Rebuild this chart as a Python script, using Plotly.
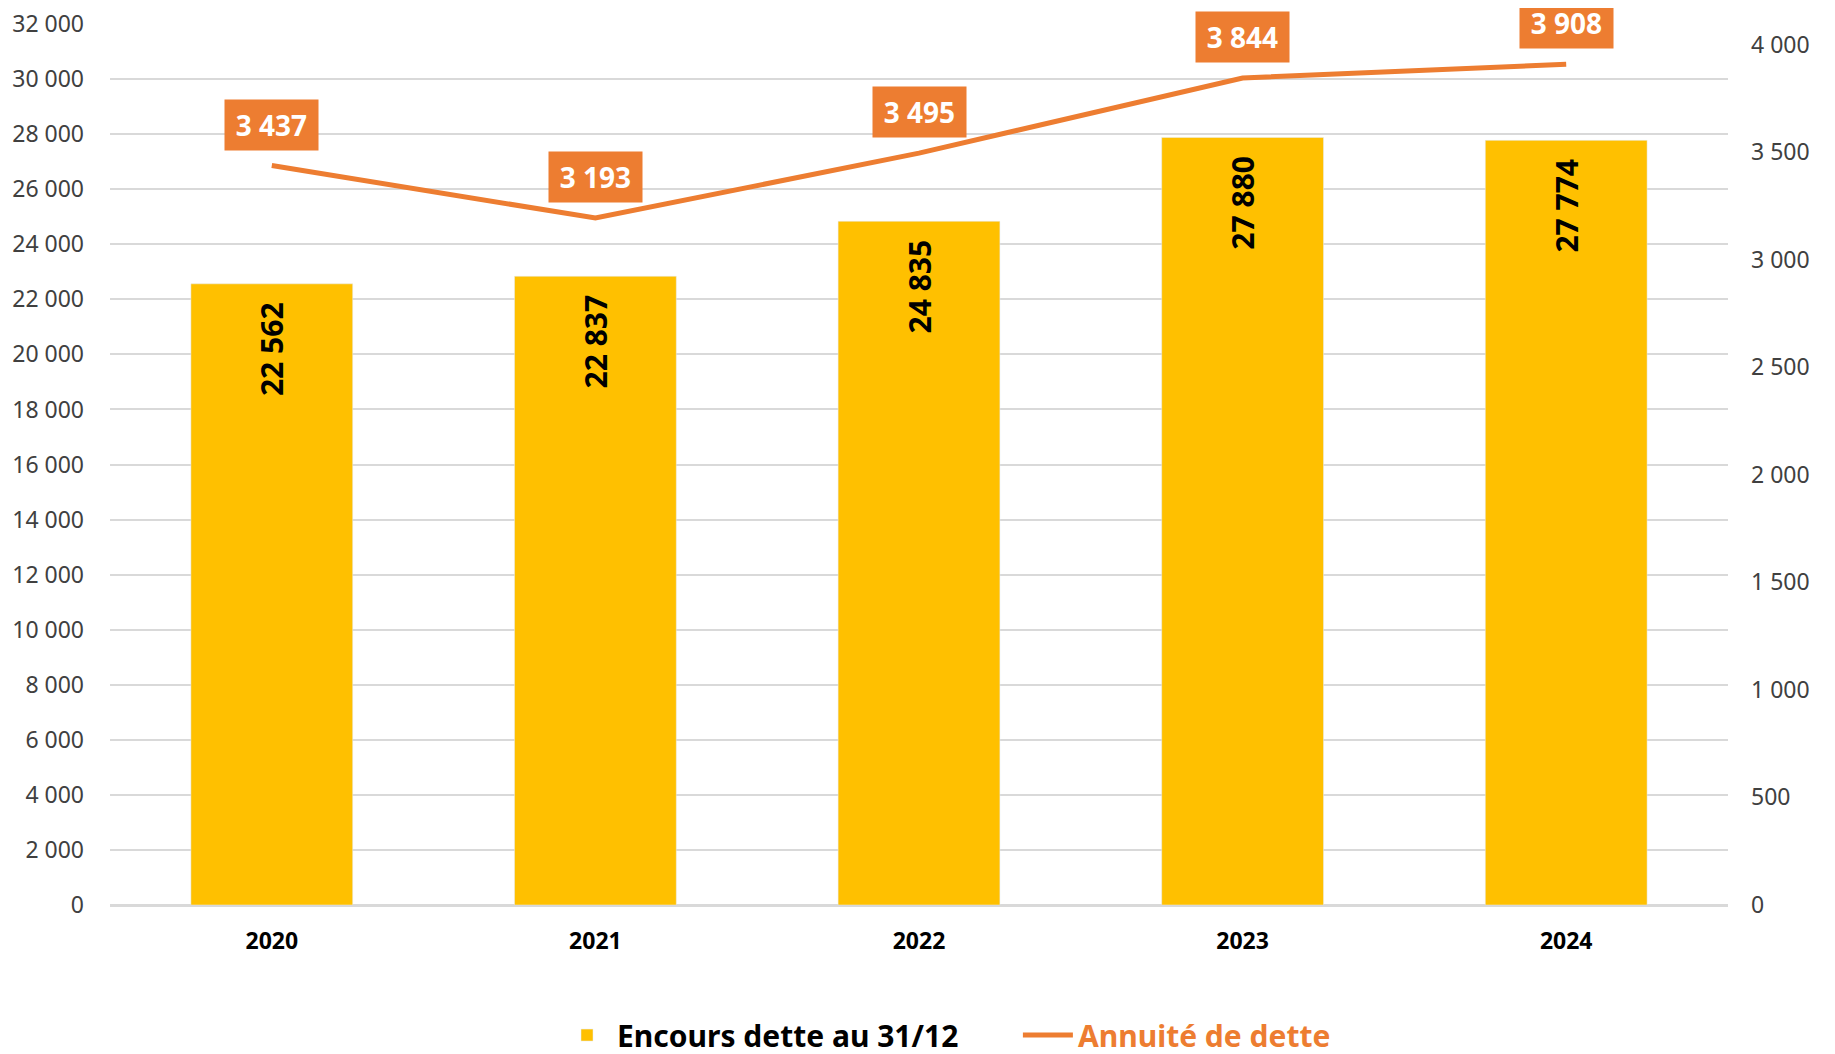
import plotly.graph_objects as go

# Data
years = ["2020", "2021", "2022", "2023", "2024"]
encours = [22562, 22837, 24835, 27880, 27774]
annuite = [3437, 3193, 3495, 3844, 3908]

bar_color = "#FFC000"
line_color = "#ED7D31"
font_family = "Noto Sans"

fig = go.Figure()

fig.add_trace(go.Bar(
    x=years,
    y=encours,
    name="<b>Encours dette au 31/12</b>" + "&nbsp;" * 7,
    marker_color=bar_color,
    width=0.5,
    # trailing spaces push the rotated label down from the bar top
    texttemplate="<b>%{y:,d}</b>&nbsp;&nbsp;",
    textposition="inside",
    insidetextanchor="end",
    textangle=-90,
    textfont=dict(size=30, color="black", family=font_family),
))

fig.add_trace(go.Scatter(
    x=years,
    y=annuite,
    yaxis="y2",
    mode="lines",
    name="<b><span style='color:#ED7D31'>Annuité de dette</span></b>",
    line=dict(color=line_color, width=5),
))

# value boxes above the line (category index as x position)
for i, v in enumerate(annuite):
    fig.add_annotation(
        x=i, y=v, yref="y2",
        text="<b>\u2009" + f"{v:,}".replace(",", " ") + "\u2009</b>",
        showarrow=False,
        yshift=41,
        bgcolor=line_color,
        borderpad=6,
        font=dict(size=28, color="white", family=font_family),
    )

# the page body adds an 8px offset, margins compensate for it
fig.update_layout(
    width=1835,
    height=1054,
    margin=dict(l=102, r=115, t=16, b=157, autoexpand=False),
    plot_bgcolor="white",
    paper_bgcolor="white",
    separators=", ",
    font=dict(family=font_family, color="#404040"),
    showlegend=True,
    legend=dict(
        orientation="h",
        x=0.517, xanchor="center",
        y=-0.1476, yanchor="middle",
        font=dict(size=30, color="black", family=font_family),
        itemwidth=50,
    ),
    xaxis=dict(
        type="category",
        range=[-0.5, 4.5],
        automargin=False,
        showgrid=False,
        showline=True,
        linecolor="#D9D9D9",
        linewidth=2,
        tickfont=dict(size=23, color="black", family=font_family),
        tickprefix="<b>", ticksuffix="</b>",
        ticklabelstandoff=14,
    ),
    yaxis=dict(
        range=[0, 32000],
        dtick=2000,
        tickformat=",d",
        automargin=False,
        ticklabeloverflow="allow",
        showgrid=True,
        gridcolor="#D9D9D9",
        gridwidth=2,
        zeroline=True,
        zerolinecolor="#D9D9D9",
        zerolinewidth=2,
        tickfont=dict(size=23, color="#404040", family=font_family),
        ticklabelstandoff=25,
    ),
    yaxis2=dict(
        overlaying="y",
        side="right",
        range=[0, 4095],
        tickvals=[0, 500, 1000, 1500, 2000, 2500, 3000, 3500, 4000],
        tickformat=",d",
        automargin=False,
        ticklabeloverflow="allow",
        showgrid=False,
        zeroline=False,
        tickfont=dict(size=23, color="#404040", family=font_family),
        ticklabelstandoff=22,
    ),
)

fig.write_html("out.html")
